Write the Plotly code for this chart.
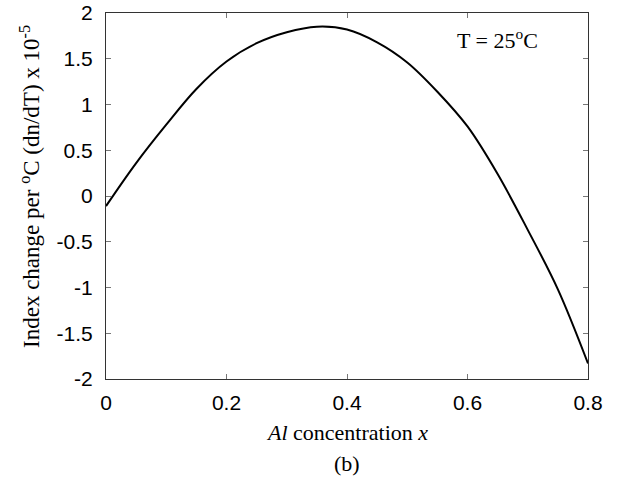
import plotly.graph_objects as go

# Al concentration vs dn/dT (x 1e-5)
al_x = [0.0, 0.05, 0.10, 0.15, 0.20, 0.25, 0.30, 0.35, 0.40, 0.45,
        0.50, 0.55, 0.60, 0.65, 0.70, 0.75, 0.80]
dndt = [-0.11, 0.36, 0.78, 1.17, 1.47, 1.67, 1.79, 1.85, 1.82, 1.68,
        1.46, 1.14, 0.76, 0.24, -0.37, -1.02, -1.83]

x_ticks = [0, 0.2, 0.4, 0.6, 0.8]
x_tick_text = ["0", "0.2", "0.4", "0.6", "0.8"]
y_ticks = [-2, -1.5, -1, -0.5, 0, 0.5, 1, 1.5, 2]
y_tick_text = ["-2", "-1.5", "-1", "-0.5", "0", "0.5", "1", "1.5", "2"]

SERIF = "Liberation Serif, Times New Roman, serif"
SANS = "Liberation Sans, Arial, sans-serif"
AXIS = "#333333"

fig = go.Figure()
fig.add_trace(go.Scatter(x=al_x, y=dndt, mode="lines", line=dict(color="black", width=2, shape="spline"),
                         showlegend=False))

axis_style = dict(showline=True, linecolor=AXIS, linewidth=1, mirror="ticks", ticks="inside", ticklen=5,
                  tickcolor="#777777", showgrid=False, zeroline=False, automargin=False,
                  tickfont=dict(family=SANS, size=21, color="black"))

fig.update_xaxes(range=[0, 0.8], tickvals=x_ticks, ticktext=x_tick_text, ticklabelstandoff=5, **axis_style)
fig.update_yaxes(range=[-2, 2], tickvals=y_ticks, ticktext=y_tick_text, ticklabelstandoff=8, **axis_style)

fig.update_layout(
    width=621,
    height=478,
    margin=dict(l=106, r=33, t=13, b=99),
    plot_bgcolor="white",
    paper_bgcolor="white",
    annotations=[
        dict(text="<i>Al</i> concentration <i>x</i>", xref="paper", yref="paper", x=0.5, y=-0.145,
             xanchor="center", yanchor="middle", showarrow=False, font=dict(family=SERIF, size=22, color="black")),
        dict(text="(b)", xref="paper", yref="paper", x=0.5, y=-0.23,
             xanchor="center", yanchor="middle", showarrow=False, font=dict(family=SERIF, size=22, color="black")),
        dict(text="Index change per <sup>o</sup>C (dn/dT) x 10<sup>-5</sup>", xref="paper", yref="paper",
             x=-0.158, y=0.527, xanchor="center", yanchor="middle", textangle=-90, showarrow=False,
             font=dict(family=SERIF, size=23, color="black")),
        dict(text="T = 25<sup>o</sup>C", xref="paper", yref="paper", x=0.812, y=0.929,
             xanchor="center", yanchor="middle", showarrow=False, font=dict(family=SERIF, size=22, color="black")),
    ],
)

fig.write_html("out.html", config={"displayModeBar": False},
               post_script="document.body.style.margin='0';")
